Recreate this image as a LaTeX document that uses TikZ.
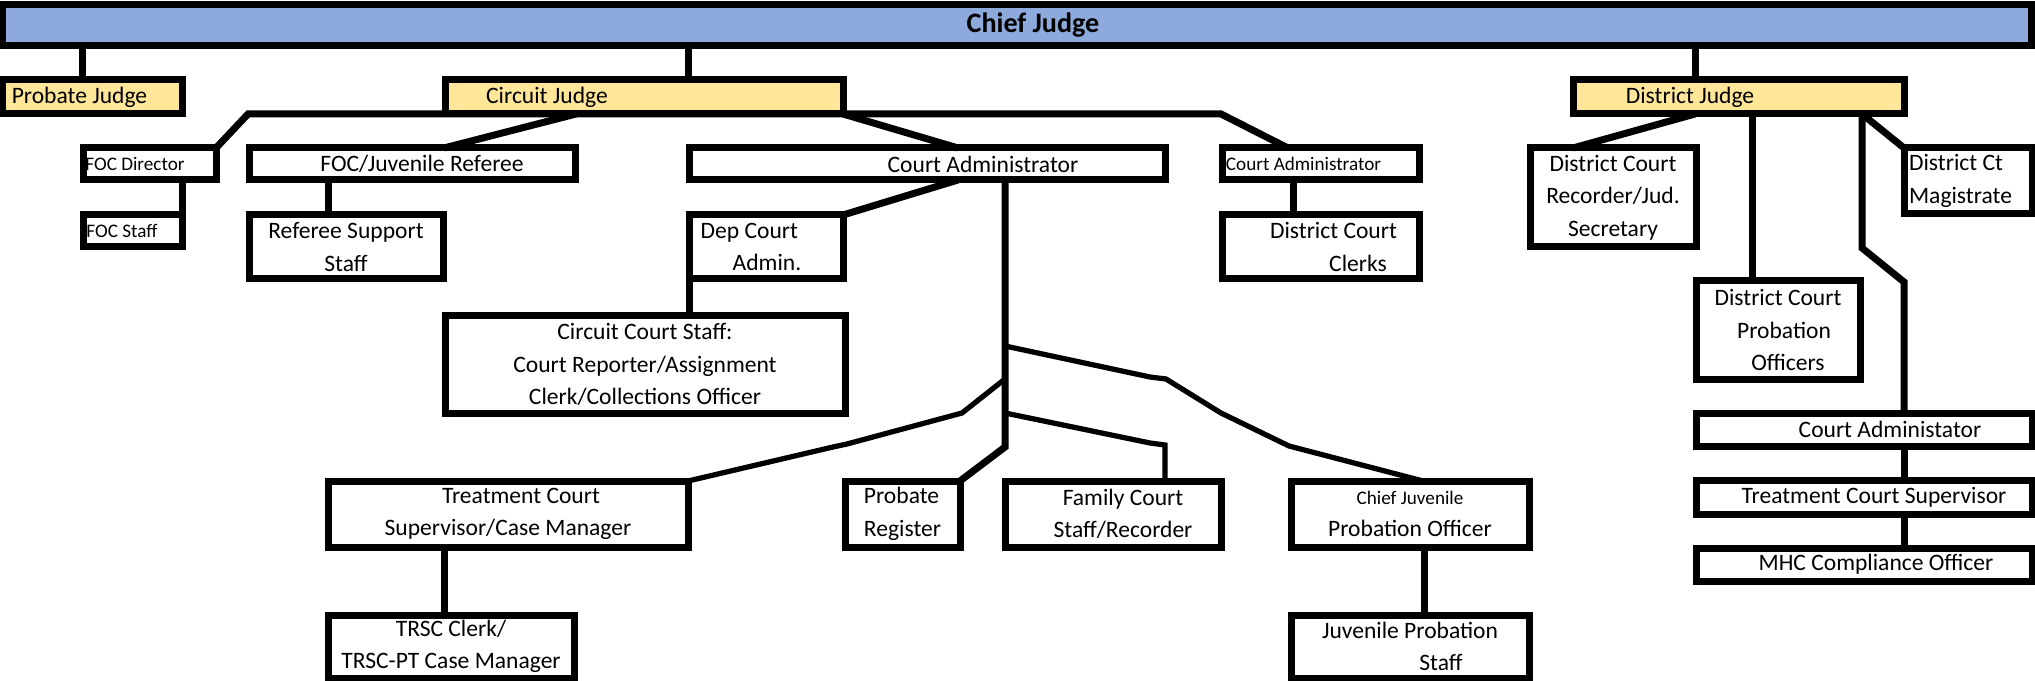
\documentclass[tikz,border=0pt]{standalone}
\usepackage{fontspec}
\setmainfont{Carlito}
\usepackage{tikz}
\definecolor{chiefBlue}{HTML}{8EA9DB}
\definecolor{judgeYellow}{HTML}{FFE699}
\newcommand{\orgfont}{\fontsize{13.4}{18.5}\selectfont}
\newcommand{\orgsmall}{\fontsize{10.9}{14}\selectfont}
\newcommand{\orgbig}{\fontsize{16}{19}\selectfont}

\begin{document}
\begin{tikzpicture}[
    x=0.2mm, y=-0.2mm,
    box/.style={draw, line width=1.4mm, inner sep=0pt, outer sep=0pt, align=center, font=\orgfont},
    judge/.style={box, fill=judgeYellow},
    link/.style={line width=1.4mm},
    branch/.style={line width=1.05mm},
]
    \useasboundingbox (0,0) rectangle (2035,681);

    % top level
    \node[box, fill=chiefBlue, minimum width=405.6mm, minimum height=8.2mm, font=\orgbig\bfseries] (chief) at (1017,25.5) {\hspace*{6.4mm}Chief Judge};
    \node[judge, minimum width=35.8mm, minimum height=6.8mm] (probj) at (92.5,97) {Probate Judge\hspace*{5.2mm}};
    \node[judge, minimum width=79.6mm, minimum height=6.8mm] (circj) at (644,97) {Circuit Judge\hspace*{38.8mm}};
    \node[judge, minimum width=66.2mm, minimum height=6.8mm] (distj) at (1738.5,97) {District Judge\hspace*{19.4mm}};

    % circuit side
    \node[box, minimum width=26.6mm, minimum height=6.4mm, font=\orgsmall] (focdir) at (149.5,164) {FOC Director\hspace*{5.8mm}};
    \node[box, minimum width=19.8mm, minimum height=6.4mm, font=\orgsmall] (focstaff) at (132.5,231) {FOC Staff\hspace*{4.2mm}};
    \node[box, minimum width=65.2mm, minimum height=6.4mm] (focref) at (412,164) {\hspace*{4mm}FOC/Juvenile Referee};
    \node[box, minimum width=38.8mm, minimum height=12.8mm] (refsup) at (346,247) {Referee Support\\Staff};
    \node[box, minimum width=95.2mm, minimum height=6.4mm] (cadmin) at (927,164) {\hspace*{22.4mm}Court Administrator};
    \node[box, align=left, minimum width=30.8mm, minimum height=12.8mm] (depadm) at (766,247) {Dep Court\\\hspace*{6.4mm}Admin.\hspace*{6mm}};
    \node[box, minimum width=80mm, minimum height=19.4mm] (ccstaff) at (645,364.5) {Circuit Court Staff:\\Court Reporter/Assignment\\Clerk/Collections Officer};
    \node[box, minimum width=39.4mm, minimum height=6.4mm, font=\orgsmall] (cadmin2) at (1320.5,164) {Court Administrator\hspace*{6.8mm}};
    \node[box, minimum width=39.4mm, minimum height=12.8mm] (clerks) at (1320.5,247) {\hspace*{5.2mm}District Court\\\hspace*{15mm}Clerks};

    \node[box, minimum width=72mm, minimum height=13.2mm] (treat) at (508,514) {\hspace*{5.2mm}Treatment Court\\Supervisor/Case Manager};
    \node[box, minimum width=49.2mm, minimum height=12.6mm] (trsc) at (451,646.5) {TRSC Clerk/\\TRSC-PT Case Manager};
    \node[box, align=left, minimum width=23mm, minimum height=13.2mm] (probreg) at (902.5,514) {Probate\\Register};
    \node[box, minimum width=43.2mm, minimum height=13.2mm] (family) at (1113,514) {\hspace*{4mm}Family Court\\\hspace*{4mm}Staff/Recorder};
    \node[box, minimum width=47.6mm, minimum height=13.2mm] (chiefjuv) at (1410,514) {{\orgsmall Chief Juvenile}\\Probation Officer};
    \node[box, minimum width=47.6mm, minimum height=12.6mm] (juvstaff) at (1410,646.5) {Juvenile Probation\\\hspace*{12.4mm}Staff};

    % district side
    \node[box, minimum width=33.2mm, minimum height=19.8mm] (dcrec) at (1613,197.5) {District Court\\Recorder/Jud.\\Secretary};
    \node[box, minimum width=32.8mm, minimum height=19.6mm] (dcprob) at (1778,330) {District Court\\\hspace*{2.4mm}Probation\\\hspace*{4mm}Officers};
    \node[box, align=left, minimum width=25.6mm, minimum height=13.2mm] (magis) at (1968,181) {District Ct\\Magistrate\hspace*{3mm}};
    \node[box, minimum width=67.2mm, minimum height=6.6mm] (dcadm) at (1864,429.5) {\hspace*{10.4mm}Court Administator};
    \node[box, minimum width=67.2mm, minimum height=6.8mm] (tcsup) at (1864,497) {\hspace*{4mm}Treatment Court Supervisor};
    \node[box, minimum width=67.2mm, minimum height=6.6mm] (mhc) at (1864,564.5) {\hspace*{4.8mm}MHC Compliance Officer};

    % junction points
    \coordinate (barL) at (248,0 |- circj.south);
    \coordinate (barR) at (1221,0 |- circj.south);
    \coordinate (trunk) at (1005,447);
    \coordinate (dbend) at (1862,248);

    % links from the chief judge
    \draw[link] (82,0 |- chief.south) -- (82,0 |- probj.north);
    \draw[link] (688,0 |- chief.south) -- (688,0 |- circj.north);
    \draw[link] (1695,0 |- chief.south) -- (1695,0 |- distj.north);

    % circuit judge
    \draw[link] (focdir.north east) -- (barL) -- (barR) -- (1288,0 |- cadmin2.north);
    \draw[link] (576,0 |- circj.south) -- (444,0 |- focref.north);
    \draw[link] (circj.south east) -- (958,0 |- cadmin.north);
    \draw[link] (focstaff.north east |- focdir.south) -- (focstaff.north east);
    \draw[link] (328,0 |- focref.south) -- (328,0 |- refsup.north);
    \draw[link] (958,0 |- cadmin.south) -- (depadm.north east);
    \draw[link] (depadm.south west) -- (depadm.south west |- ccstaff.north);
    \draw[link] (1293,0 |- cadmin2.south) -- (1293,0 |- clerks.north);

    % court administrator trunk
    \draw[link] (1005,0 |- cadmin.south) -- (trunk) -- (probreg.north east);
    \draw[branch] (1005,346) -- (1150,377) -- (1166,379) -- (1221,413) -- (1289,446) -- (1423,0 |- chiefjuv.north);
    \draw[branch] (1005,379) -- (962,413) -- (847,444) -- (833,447) -- (treat.north east);
    \draw[branch] (1005,413) -- (1150,443) -- (1165,445) -- (1165,0 |- family.north);
    \draw[link] (444,0 |- treat.south) -- (444,0 |- trsc.north);
    \draw[link] (1424,0 |- chiefjuv.south) -- (1424,0 |- juvstaff.north);

    % district judge
    \draw[link] (1695,0 |- distj.south) -- (1573,0 |- dcrec.north);
    \draw[link] (1752,0 |- distj.south) -- (1752,0 |- dcprob.north);
    \draw[link] (1862,0 |- distj.south) -- (magis.north west);
    \draw[link] (1862,0 |- distj.south) -- (dbend) -- (1904,282) -- (1904,0 |- dcadm.north);
    \draw[link] (1904,0 |- dcadm.south) -- (1904,0 |- tcsup.north);
    \draw[link] (1904,0 |- tcsup.south) -- (1904,0 |- mhc.north);
\end{tikzpicture}
\end{document}
